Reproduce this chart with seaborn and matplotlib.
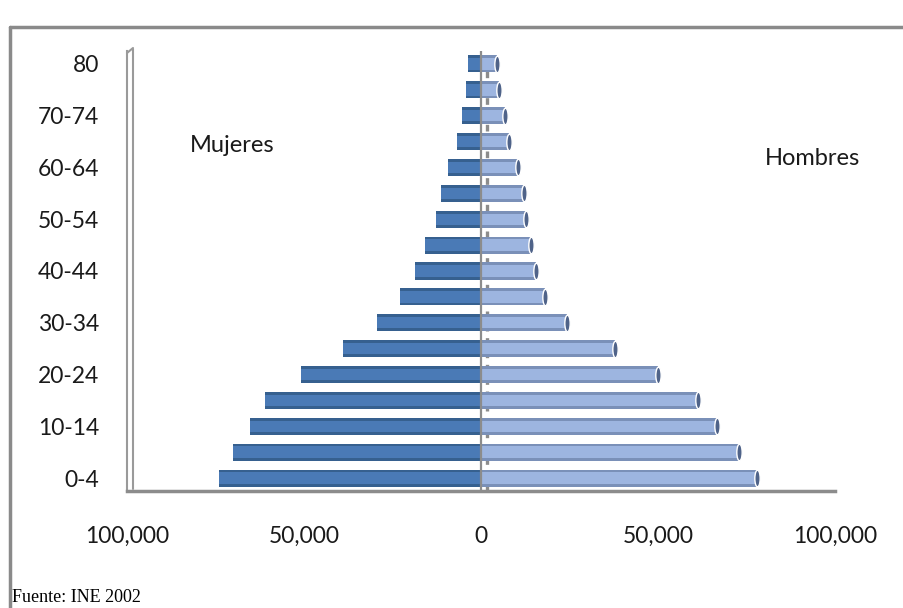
import numpy as np
import pandas as pd
import seaborn as sns
import matplotlib.pyplot as plt
from matplotlib.lines import Line2D
from matplotlib.path import Path
from matplotlib.transforms import Affine2D
from matplotlib.ticker import FuncFormatter

# ---- data ----
ages = ["0-4", "5-9", "10-14", "15-19", "20-24", "25-29", "30-34", "35-39",
        "40-44", "45-49", "50-54", "55-59", "60-64", "65-69", "70-74", "75-79", "80"]
mujeres = [74000, 70100, 65300, 61000, 50800, 39000, 29400, 22900,
           18600, 15800, 12700, 11300, 9300, 6800, 5400, 4200, 3700]
hombres = [78000, 72900, 66700, 61300, 50000, 37900, 24300, 18100,
           15500, 14100, 12700, 12100, 10500, 7900, 6800, 5100, 4500]
shown_labels = ["0-4", "10-14", "20-24", "30-34", "40-44", "50-54", "60-64", "70-74", "80"]
xticks = [-100000, -50000, 0, 50000, 100000]

sns.set_theme(style="white")
plt.rcParams['font.family'] = ['Lato', 'DejaVu Sans']

fig = plt.figure(figsize=(9.04, 6.08), dpi=100)
ax = fig.add_axes([127 / 904, 1 - 491 / 608, (835 - 127) / 904, (491 - 51) / 608])

df = pd.DataFrame({"edad": ages,
                   "mujeres": [-v for v in mujeres],
                   "hombres": hombres})
order = ages[::-1]

# back dashed gridline
ax.axvline(1700, color="#8c8c8c", lw=2.4, ls=(0, (2.0, 2.0)), zorder=0)

kw = dict(order=order, orient="h", saturation=1, ax=ax, linewidth=0, edgecolor="none")
# women (cylinder look: dark base + lighter core)
sns.barplot(data=df, y="edad", x="mujeres", color="#36608f", width=0.66, zorder=2, **kw)
sns.barplot(data=df, y="edad", x="mujeres", color="#4a7ab6", width=0.44, zorder=3, **kw)
# men
sns.barplot(data=df, y="edad", x="hombres", color="#7a90b8", width=0.66, zorder=2, **kw)
sns.barplot(data=df, y="edad", x="hombres", color="#9db5e0", width=0.44, zorder=3, **kw)

# cylinder end caps (narrow vertical ellipses) on the men's bars
circ = Path.unit_circle()
ellipse = Path(Affine2D().scale(0.32, 1.0).transform(circ.vertices), circ.codes)
sns.stripplot(data=df, y="edad", x="hombres", order=order, orient="h", jitter=False,
              marker=ellipse, size=12, color="#4f6389", edgecolor="white", linewidth=1.0,
              ax=ax, zorder=4)

ax.axvline(0, color="#8c8c8c", lw=1.6, zorder=5)

ax.set_xlim(-100000, 100000)
ax.set_xticks(xticks)
ax.xaxis.set_major_formatter(FuncFormatter(lambda v, p: f"{abs(int(v)):,}"))
ax.set_yticks(range(len(order)))
ax.set_yticklabels([a if a in shown_labels else "" for a in order])
ax.set_ylim(len(order) - 0.5, -0.5)
ax.set_xlabel("")
ax.set_ylabel("")
ax.tick_params(axis="y", length=0, pad=20, labelsize=16.5, colors="#1a1a1a")
ax.tick_params(axis="x", length=0, pad=25, labelsize=16.5, colors="#1a1a1a")

for s in ["top", "right"]:
    ax.spines[s].set_visible(False)
ax.spines["bottom"].set_color("#8c8c8c")
ax.spines["bottom"].set_linewidth(2.5)
ax.spines["left"].set_color("#9a9a9a")
ax.spines["left"].set_linewidth(1.5)
# thin 3D wall edge next to the left spine
fig.add_artist(Line2D([133 / 904, 133 / 904], [1 - 489 / 608, 1 - 49 / 608],
                      color="#9a9a9a", lw=1.5))
fig.add_artist(Line2D([127 / 904, 133 / 904], [1 - 53 / 608, 1 - 48 / 608],
                      color="#9a9a9a", lw=1.5))

fig.text(190 / 904, 1 - 145 / 608, "Mujeres", fontsize=17, va="center", ha="left", color="#1a1a1a")
fig.text(765 / 904, 1 - 158 / 608, "Hombres", fontsize=17, va="center", ha="left", color="#1a1a1a")
fig.text(12 / 904, 1 - 597 / 608, "Fuente: INE 2002", fontsize=13, va="center", ha="left",
         family=["Liberation Serif", "DejaVu Serif"], color="#000000")

# outer chart frame
fig.add_artist(Line2D([10 / 904, 10 / 904], [0, 1 - 27 / 608], color="#8a8a8a", lw=2.5))
fig.add_artist(Line2D([10 / 904, 1], [1 - 27 / 608, 1 - 27 / 608], color="#8a8a8a", lw=2.5))

fig.savefig("out.png", dpi=100)
